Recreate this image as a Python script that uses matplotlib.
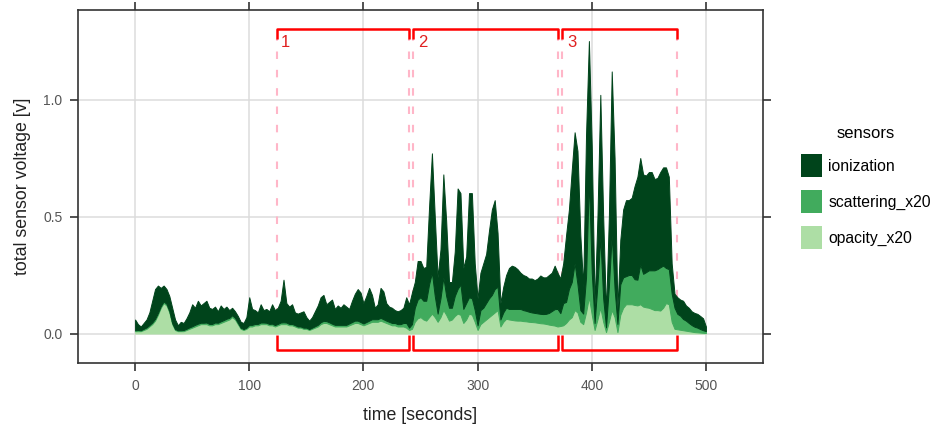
import numpy as np
import matplotlib
matplotlib.use("Agg")
import matplotlib.pyplot as plt
from matplotlib.patches import Patch

plt.rcParams["font.family"] = ["Liberation Sans", "DejaVu Sans"]

# readings every 2.5 s from 0 to 500 s
time = np.arange(0, 500.1, 2.5)

opacity = [
    .01, .01, .01, .015, .02, .03, .04, .055, .08, .11,
    .13, .12, .09, .04, .015, .01, .01, .01, .015, .02,
    .025, .03, .035, .04, .04, .04, .035, .035, .04, .04,
    .045, .05, .055, .06, .07, .06, .04, .02, .015, .02,
    .03, .03, .035, .035, .04, .04, .04, .035, .035, .03,
    .035, .04, .04, .04, .035, .035, .03, .025, .025, .02,
    .02, .015, .02, .025, .03, .04, .045, .045, .04, .035,
    .03, .03, .03, .03, .03, .035, .04, .045, .045, .04,
    .035, .04, .045, .05, .05, .05, .055, .05, .045, .04,
    .035, .035, .03, .03, .03, .025, .015, .02, .05, .065,
    .07, .06, .055, .07, .085, .07, .05, .07, .1, .08,
    .055, .06, .075, .085, .08, .045, .06, .085, .08, .05,
    .015, .04, .05, .06, .07, .08, .09, .1, .03, .05,
    .063, .06, .058, .056, .055, .055, .053, .052, .05, .049,
    .048, .046, .044, .043, .041, .038, .036, .034, .03, .032,
    .035, .045, .06, .07, .1, .09, .05, .04, .09, .155,
    .08, .015, .06, .11, .05, .006, .05, .1, .07, .006,
    .08, .11, .125, .125, .125, .122, .12, .125, .115, .112,
    .11, .105, .1, .1, .098, .11, .13, .125, .05, .02,
    .018, .016, .014, .012, .01, .008, .006, .005, .004, .003,
    .002,
]

scattering = [
    .004, .005, .004, .005, .006, .006, .007, .008, .008, .007,
    .007, .007, .006, .005, .004, .004, .004, .005, .005, .006,
    .006, .007, .007, .006, .006, .007, .006, .006, .007, .006,
    .007, .007, .008, .007, .008, .007, .006, .005, .004, .005,
    .007, .007, .006, .006, .007, .007, .006, .006, .007, .006,
    .006, .007, .008, .007, .006, .006, .006, .005, .005, .005,
    .005, .004, .005, .006, .007, .008, .009, .008, .008, .007,
    .007, .007, .007, .007, .007, .008, .009, .01, .01, .009,
    .008, .009, .01, .011, .011, .011, .012, .011, .01, .01,
    .01, .01, .01, .01, .015, .02, .01, .02, .06, .08,
    .085, .08, .085, .14, .175, .09, .035, .08, .14, .08,
    .055, .05, .085, .105, .13, .06, .07, .07, .07, .05,
    .02, .06, .06, .07, .08, .085, .1, .1, .03, .04,
    .047, .045, .047, .049, .05, .05, .047, .045, .043, .041,
    .04, .04, .04, .04, .043, .05, .06, .07, .075, .055,
    .095, .09, .13, .15, .2, .12, .05, .045, .15, .5,
    .18, .03, .15, .3, .1, .02, .15, .32, .12, .035,
    .13, .13, .12, .125, .125, .11, .11, .17, .14, .15,
    .16, .165, .17, .175, .185, .18, .15, .15, .12, .09,
    .066, .06, .048, .043, .035, .028, .023, .02, .015, .011,
    .008,
]

ionization = [
    .046, .025, .016, .025, .034, .054, .093, .127, .117, .078,
    .068, .063, .064, .065, .041, .021, .036, .03, .045, .064,
    .094, .073, .098, .074, .084, .093, .069, .064, .068, .049,
    .068, .048, .052, .033, .032, .028, .029, .025, .026, .045,
    .118, .068, .059, .049, .078, .053, .059, .054, .083, .064,
    .069, .093, .182, .083, .074, .084, .054, .055, .06, .07,
    .045, .036, .045, .064, .083, .107, .111, .072, .087, .103,
    .068, .083, .073, .088, .078, .062, .091, .115, .135, .126,
    .087, .111, .14, .104, .049, .064, .128, .119, .075, .065,
    .065, .055, .055, .06, .065, .11, .1, .135, .11, .165,
    .155, .14, .145, .33, .51, .34, .155, .21, .44, .32,
    .11, .11, .19, .43, .39, .175, .2, .445, .45, .2,
    .115, .16, .19, .21, .29, .365, .38, .23, .07, .11,
    .14, .175, .185, .18, .17, .155, .15, .148, .142, .145,
    .14, .149, .164, .157, .156, .162, .164, .186, .155, .148,
    .17, .285, .34, .48, .56, .57, .32, .115, .61, .595,
    .54, .075, .29, .61, .35, .064, .3, .7, .56, .059,
    .19, .29, .325, .32, .33, .398, .44, .455, .425, .413,
    .42, .42, .39, .39, .407, .42, .43, .395, .13, .06,
    .071, .069, .078, .065, .065, .059, .059, .059, .056, .051,
    .02,
]

sensor_names = ["opacity_x20", "scattering_x20", "ionization"]
sensor_colors = ["#addea5", "#41ab5d", "#00441b"]

# test phases marked with brackets
phase_labels = ["1", "2", "3"]
phase_start = [124, 243.8, 374.3]
phase_end = [240, 370.3, 475]

fig = plt.figure(figsize=(9.43, 4.30), dpi=100)
ax = fig.add_axes([78 / 943, 67 / 430, 685 / 943, 353 / 430])

polys = ax.stackplot(time, opacity, scattering, ionization,
                     colors=sensor_colors, zorder=2)
for p, c in zip(polys, sensor_colors):
    p.set_edgecolor(c)
    p.set_linewidth(0.7)

for x0, x1, lab in zip(phase_start, phase_end, phase_labels):
    ax.vlines([x0, x1], 0, 1.26, colors="#ffb6c8", linestyles=(0, (3.6, 5.2)),
              linewidth=1.5, zorder=1.5)
    ax.plot([x0, x0, x1, x1], [1.26, 1.30, 1.30, 1.26], color="red",
            linewidth=1.8, zorder=3, solid_capstyle="butt")
    ax.plot([x0, x0, x1, x1], [-0.006, -0.07, -0.07, -0.006], color="red",
            linewidth=1.8, zorder=3, solid_capstyle="butt")
    ax.text(x0 + 4, 1.245, lab, color="#e02020", fontsize=12,
            ha="left", va="center", zorder=3)

ax.set_xlim(-50, 550)
ax.set_ylim(-0.126, 1.3825)
ax.set_xticks([0, 100, 200, 300, 400, 500])
ax.set_yticks([0.0, 0.5, 1.0])
ax.set_yticklabels(["0.0", "0.5", "1.0"])
ax.grid(True, color="#dcdcdc", linewidth=1.1)
ax.set_axisbelow(True)

for sp in ax.spines.values():
    sp.set_color("#333333")
    sp.set_linewidth(1.2)
ax.tick_params(direction="out", length=5.8, width=1.2, color="#333333",
               top=True, right=True, labelsize=10, labelcolor="#555555", pad=5.5)

ax.set_xlabel("time [seconds]", fontsize=12.8, color="#222222", labelpad=10)
ax.set_ylabel("total sensor voltage [v]", fontsize=12.8, color="#222222", labelpad=9)

handles = [Patch(facecolor=c, edgecolor="none") for c in sensor_colors[::-1]]
fig.legend(handles, sensor_names[::-1], title="sensors", loc="upper left",
           bbox_to_anchor=(801 / 943, 1 - 126 / 430), frameon=False,
           fontsize=11.3, title_fontsize=12, handlelength=1.35, handleheight=1.84,
           handletextpad=0.4, labelspacing=0.85, borderpad=0, borderaxespad=0)

fig.savefig("out.png", dpi=100)
